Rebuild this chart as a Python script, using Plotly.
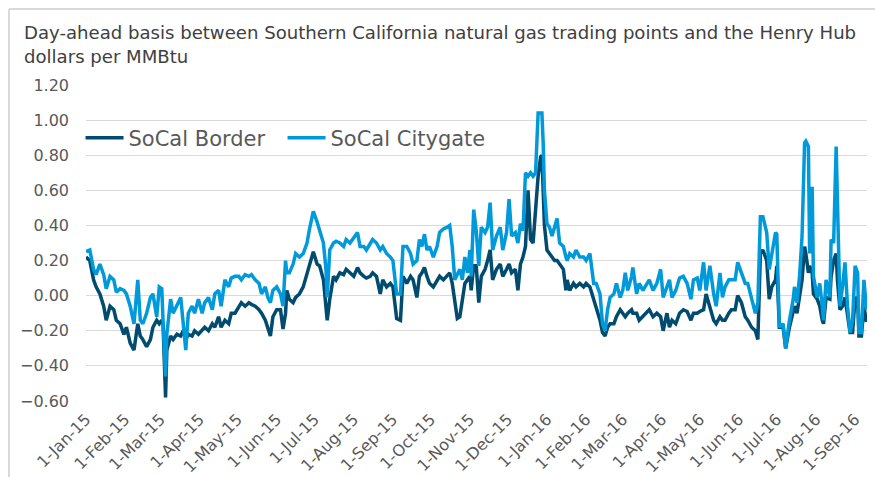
import plotly.graph_objects as go

dates = [
"2015-01-01","2015-01-04","2015-01-07","2015-01-09","2015-01-12","2015-01-15","2015-01-17","2015-01-20","2015-01-23","2015-01-25",
"2015-01-28","2015-01-31","2015-02-02","2015-02-05","2015-02-08","2015-02-11","2015-02-13","2015-02-15","2015-02-18","2015-02-21",
"2015-02-23","2015-02-26","2015-02-28","2015-03-02","2015-03-03","2015-03-05","2015-03-06","2015-03-09","2015-03-11","2015-03-14",
"2015-03-17","2015-03-19","2015-03-21","2015-03-23","2015-03-26","2015-03-28","2015-03-31","2015-04-03","2015-04-05","2015-04-08",
"2015-04-11","2015-04-13","2015-04-16","2015-04-18","2015-04-21","2015-04-24","2015-04-26","2015-04-29","2015-05-02","2015-05-04",
"2015-05-07","2015-05-10","2015-05-12","2015-05-15","2015-05-18","2015-05-20","2015-05-23","2015-05-25","2015-05-27","2015-05-29",
"2015-06-01","2015-06-04","2015-06-06","2015-06-08","2015-06-09","2015-06-11","2015-06-14","2015-06-16","2015-06-19","2015-06-22",
"2015-06-25","2015-06-27","2015-06-30","2015-07-03","2015-07-05","2015-07-08","2015-07-10","2015-07-11","2015-07-13","2015-07-16",
"2015-07-18","2015-07-21","2015-07-24","2015-07-26","2015-07-29","2015-08-01","2015-08-04","2015-08-06","2015-08-09","2015-08-11",
"2015-08-14","2015-08-16","2015-08-19","2015-08-22","2015-08-24","2015-08-27","2015-08-30","2015-09-01","2015-09-04","2015-09-07",
"2015-09-09","2015-09-12","2015-09-15","2015-09-17","2015-09-20","2015-09-22","2015-09-24","2015-09-26","2015-09-28","2015-09-30",
"2015-10-03","2015-10-06","2015-10-08","2015-10-11","2015-10-14","2015-10-16","2015-10-18","2015-10-20","2015-10-22","2015-10-24",
"2015-10-26","2015-10-27","2015-10-28","2015-10-30","2015-11-01","2015-11-02","2015-11-04","2015-11-06","2015-11-08","2015-11-10",
"2015-11-13","2015-11-15","2015-11-17","2015-11-19","2015-11-22","2015-11-25","2015-11-27","2015-11-30","2015-12-02","2015-12-04",
"2015-12-07","2015-12-09","2015-12-11","2015-12-13","2015-12-15","2015-12-17","2015-12-19","2015-12-21","2015-12-23","2015-12-25",
"2015-12-27","2015-12-28","2015-12-29","2015-12-30","2016-01-01","2016-01-03","2016-01-05","2016-01-07","2016-01-09","2016-01-11",
"2016-01-14","2016-01-16","2016-01-17","2016-01-19","2016-01-22","2016-01-24","2016-01-27","2016-01-30","2016-02-01","2016-02-04",
"2016-02-07","2016-02-09","2016-02-12","2016-02-14","2016-02-16","2016-02-18","2016-02-20","2016-02-23","2016-02-25","2016-02-28",
"2016-03-01","2016-03-03","2016-03-05","2016-03-08","2016-03-09","2016-03-12","2016-03-14","2016-03-17","2016-03-20","2016-03-22",
"2016-03-25","2016-03-28","2016-03-31","2016-04-02","2016-04-05","2016-04-07","2016-04-09","2016-04-12","2016-04-15","2016-04-18",
"2016-04-21","2016-04-24","2016-04-26","2016-04-29","2016-05-01","2016-05-04","2016-05-06","2016-05-09","2016-05-12","2016-05-14",
"2016-05-17","2016-05-19","2016-05-21","2016-05-24","2016-05-26","2016-05-29","2016-05-31","2016-06-03","2016-06-06","2016-06-08",
"2016-06-11","2016-06-14","2016-06-16","2016-06-18","2016-06-20","2016-06-23","2016-06-25","2016-06-27","2016-06-30","2016-07-01",
"2016-07-03","2016-07-06","2016-07-08","2016-07-11","2016-07-14","2016-07-15","2016-07-17","2016-07-19","2016-07-21","2016-07-23",
"2016-07-24","2016-07-26","2016-07-27","2016-07-29","2016-07-30","2016-08-02","2016-08-04","2016-08-06","2016-08-07","2016-08-09",
"2016-08-12","2016-08-13","2016-08-15","2016-08-17","2016-08-18","2016-08-20","2016-08-22","2016-08-24","2016-08-26","2016-08-28",
"2016-08-30","2016-09-01","2016-09-03","2016-09-04","2016-09-06","2016-09-08","2016-09-10",
]

socal_border = [
0.22,0.20,0.09,0.05,0.01,-0.06,-0.14,-0.06,-0.08,-0.14,
-0.16,-0.22,-0.18,-0.27,-0.31,-0.16,-0.23,-0.25,-0.29,-0.25,
-0.18,-0.14,-0.16,-0.14,-0.16,-0.58,-0.31,-0.23,-0.25,-0.22,
-0.23,-0.20,-0.25,-0.22,-0.23,-0.20,-0.22,-0.20,-0.18,-0.20,
-0.16,-0.18,-0.12,-0.18,-0.14,-0.16,-0.10,-0.10,-0.06,-0.04,
-0.06,-0.04,-0.05,-0.06,-0.08,-0.10,-0.14,-0.18,-0.23,-0.12,
-0.08,-0.08,-0.19,-0.10,0.03,-0.02,-0.04,-0.01,0.01,0.05,
0.13,0.18,0.25,0.18,0.17,0.09,-0.05,-0.14,-0.02,0.11,
0.09,0.13,0.12,0.15,0.13,0.11,0.16,0.13,0.11,0.10,
0.11,0.13,0.11,0.01,0.09,0.05,0.07,0.05,-0.13,-0.14,
0.11,0.07,0.11,0.09,-0.01,0.11,0.13,0.16,0.11,0.07,
0.05,0.09,0.11,0.09,0.11,0.13,0.07,-0.05,-0.13,-0.12,
-0.02,0.05,0.07,0.09,0.11,0.03,0.17,0.17,-0.04,0.11,
0.15,0.20,0.26,0.09,0.15,0.18,0.11,0.15,0.18,0.13,
0.15,0.03,0.18,0.22,0.28,0.60,0.32,0.30,0.51,0.68,
0.79,0.80,0.60,0.40,0.26,0.24,0.22,0.20,0.20,0.18,
0.15,0.03,0.09,0.03,0.07,0.05,0.07,0.05,0.07,0.05,
-0.02,-0.06,-0.14,-0.21,-0.23,-0.18,-0.16,-0.16,-0.12,-0.08,
-0.10,-0.12,-0.10,-0.08,-0.10,-0.10,-0.14,-0.12,-0.10,-0.08,
-0.12,-0.10,-0.12,-0.20,-0.10,-0.18,-0.14,-0.16,-0.10,-0.08,
-0.09,-0.14,-0.10,-0.10,-0.09,-0.08,0.01,-0.06,-0.14,-0.16,
-0.12,-0.14,-0.14,-0.10,-0.08,-0.08,0.00,-0.04,-0.12,-0.14,
-0.18,-0.20,-0.25,0.24,0.26,0.20,-0.02,0.05,0.09,0.17,
-0.18,-0.18,-0.30,-0.18,-0.10,-0.06,-0.10,-0.01,0.09,0.28,
0.24,0.13,0.17,0.13,0.01,-0.02,-0.06,-0.14,-0.16,-0.01,
-0.02,0.11,0.20,0.24,0.09,-0.08,-0.06,-0.01,-0.10,-0.21,
-0.21,-0.01,-0.02,-0.23,-0.23,-0.06,-0.15,
]

socal_citygate = [
0.25,0.26,0.15,0.12,0.18,0.12,0.04,0.11,0.09,0.02,
0.04,0.03,0.01,-0.06,-0.16,0.09,-0.14,-0.16,-0.10,-0.01,
0.01,-0.12,0.05,0.04,-0.14,-0.46,-0.22,-0.02,-0.10,-0.05,
-0.01,-0.16,-0.31,-0.10,-0.06,-0.10,-0.02,-0.10,-0.04,-0.01,
-0.08,0.01,0.03,-0.06,0.09,0.05,0.10,0.11,0.11,0.09,
0.12,0.11,0.12,0.09,0.07,0.01,0.05,-0.01,-0.04,0.03,
0.05,0.01,-0.06,0.20,0.13,0.13,0.18,0.24,0.22,0.24,
0.30,0.38,0.48,0.42,0.37,0.30,0.15,-0.01,0.26,0.30,
0.31,0.30,0.28,0.32,0.30,0.33,0.36,0.28,0.28,0.26,
0.30,0.32,0.30,0.26,0.28,0.24,0.22,0.20,0.01,0.01,
0.28,0.28,0.24,0.18,0.20,0.32,0.28,0.35,0.26,0.28,
0.22,0.28,0.36,0.38,0.39,0.40,0.28,0.09,0.12,0.15,
0.09,0.18,0.22,0.13,0.26,0.11,0.49,0.37,0.17,0.39,
0.36,0.39,0.53,0.26,0.34,0.39,0.26,0.36,0.55,0.34,
0.36,0.30,0.41,0.37,0.70,0.68,0.70,0.68,0.70,1.04,
1.04,1.04,0.87,0.60,0.41,0.39,0.34,0.39,0.44,0.30,
0.28,0.22,0.20,0.24,0.22,0.26,0.22,0.22,0.20,0.24,
0.07,0.07,0.01,-0.16,-0.20,-0.08,-0.01,0.01,0.07,-0.01,
0.03,0.13,0.03,0.11,0.16,0.01,0.07,0.03,0.07,0.09,
0.03,0.07,0.15,-0.01,0.05,0.09,-0.01,0.03,0.10,0.11,
0.07,-0.02,0.09,0.10,0.03,0.19,0.03,0.17,0.01,-0.06,
0.13,-0.01,0.05,0.09,0.09,0.09,0.19,0.13,0.07,0.07,
-0.02,-0.10,-0.04,0.45,0.45,0.36,0.15,0.24,0.36,0.35,
-0.18,-0.16,-0.30,-0.14,-0.02,0.05,-0.04,0.11,0.34,0.87,
0.88,0.85,0.24,0.62,0.11,-0.01,0.07,-0.06,-0.14,0.09,
-0.01,0.32,0.30,0.85,0.53,-0.06,0.05,0.19,-0.06,-0.21,
-0.14,0.17,0.13,-0.21,-0.21,0.09,-0.08,
]

series_names = ["SoCal Border", "SoCal Citygate"]
series_colors = ["#004B6E", "#009ADB"]
title_text = ("Day-ahead basis between Southern California natural gas trading points and the Henry Hub"
              "<br>dollars per MMBtu")

FONT = "DejaVu Sans"
GRID = "#D9D9D9"
TXT = "#595959"

fig = go.Figure()
for name, vals, col in zip(series_names, [socal_border, socal_citygate], series_colors):
    fig.add_trace(go.Scatter(x=dates, y=vals, mode="lines", name=name,
                             line=dict(color=col, width=3.5)))

x_range = ["2015-01-01", "2016-09-10 10:00"]

fig.update_layout(
    width=875, height=477,
    margin=dict(l=86, r=8, t=85, b=76, autoexpand=False),
    paper_bgcolor="white", plot_bgcolor="white",
    font=dict(family=FONT, size=16, color=TXT),
    showlegend=True,
    legend=dict(orientation="h", x=-0.007, y=0.832, xanchor="left", yanchor="middle",
                font=dict(size=21, color=TXT), bgcolor="rgba(0,0,0,0)",
                itemwidth=38, tracegroupgap=0, entrywidth=149, entrywidthmode="pixels"),
    xaxis=dict(type="date", range=x_range, dtick="M1", tick0="2015-01-01",
               tickformat="%-d-%b-%y", tickangle=-45, showgrid=False,
               showline=False, ticks="", ticklabelstandoff=5, automargin=False,
               tickfont=dict(size=16, color=TXT)),
    xaxis2=dict(type="date", range=x_range, dtick="M1", tick0="2015-01-01",
                overlaying="x", anchor="free", position=1/3, side="bottom",
                showgrid=False, showline=True, linecolor=GRID, linewidth=1, automargin=False,
                ticks="outside", ticklen=5, tickcolor=GRID, showticklabels=False),
    yaxis=dict(range=[-0.6, 1.2], dtick=0.2, tick0=0, tickformat=".2f",
               showgrid=True, gridcolor=GRID, gridwidth=1, zeroline=False,
               showline=False, ticks="", ticklabelstandoff=16, automargin=False,
               tickfont=dict(size=16, color=TXT)),
    annotations=[
        dict(text=title_text, xref="paper", yref="paper", x=-0.082, y=1.128,
             xanchor="left", yanchor="middle", align="left", showarrow=False,
             font=dict(size=18.1, color="#404040")),
    ],
    shapes=[
        dict(type="line", xref="paper", yref="paper", x0=-0.0986, x1=1.0102,
             y0=1.2405, y1=1.2405, line=dict(color=GRID, width=2)),
        dict(type="line", xref="paper", yref="paper", x0=-0.0986, x1=-0.0986,
             y0=1.2405, y1=-0.2405, line=dict(color=GRID, width=2)),
    ],
)

fig.write_html("out.html", config={"displayModeBar": False},
               post_script="document.body.style.margin='0';")
